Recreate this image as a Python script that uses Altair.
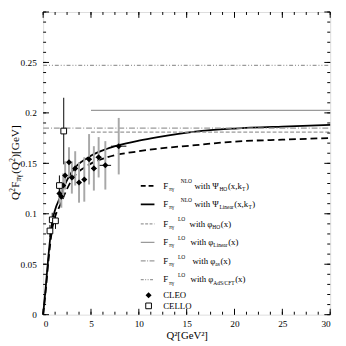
import altair as alt
import pandas as pd

# ---------------- data ----------------
# NLO curves
nlo_lin_q2 = [0, 0.27, 0.54, 0.95, 1.22, 1.8, 2.14, 3.0, 4.7, 6.7, 7.9, 10, 12, 15.9, 20, 25, 30]
nlo_lin_f = [0, 0.027, 0.057, 0.092, 0.103, 0.117, 0.126, 0.1416, 0.1558, 0.1645, 0.168, 0.1725, 0.176, 0.1815, 0.1845, 0.1865, 0.188]
nlo_ho_q2 = [0, 0.27, 0.54, 0.95, 1.22, 1.8, 2.14, 3.0, 4.7, 6.7, 10, 15.9, 20, 25, 30]
nlo_ho_f = [0, 0.024, 0.052, 0.085, 0.096, 0.109, 0.117, 0.1337, 0.148, 0.156, 0.162, 0.168, 0.1715, 0.1735, 0.175]

# LO constant lines
lo_names = ["HO", "Linear", "as", "AdS/CFT"]
lo_start = [5, 5, 0, 0]
lo_end = [30, 30, 30, 30]
lo_value = [0.181, 0.2025, 0.185, 0.247]

# CLEO data
cleo_q2 = [1.7, 1.9, 2.1, 2.3, 2.7, 3.0, 3.35, 3.75, 4.3, 4.8, 5.3, 5.8, 6.5, 7.9]
cleo_f = [0.120, 0.117, 0.128, 0.138, 0.151, 0.136, 0.145, 0.131, 0.134, 0.154, 0.145, 0.156, 0.148, 0.167]
cleo_err = [0.010, 0.011, 0.012, 0.014, 0.015, 0.016, 0.017, 0.020, 0.022, 0.025, 0.022, 0.020, 0.024, 0.028]
cleo_xerr = [0.1, 0.1, 0.1, 0.12, 0.15, 0.15, 0.2, 0.2, 0.25, 0.25, 0.3, 0.3, 0.6, 0.8]

# CELLO data
cello_q2 = [0.71, 0.95, 1.29, 1.70, 2.15]
cello_f = [0.083, 0.094, 0.093, 0.128, 0.182]
cello_err = [0.006, 0.007, 0.008, 0.010, 0.033]

# axes ticks
x_major = [0, 5, 10, 15, 20, 25, 30]
x_minor = [i * 1.25 for i in range(25)]
y_major = [0, 0.05, 0.1, 0.15, 0.2, 0.25, 0.3]
y_minor = [round(i * 0.01, 2) for i in range(31)]

W, H = 294, 310
FONT = "Liberation Serif"
GRAY = "#9a9a9a"

xs = alt.Scale(domain=[0, 30], nice=False, zero=False)
ys = alt.Scale(domain=[0, 0.3], nice=False, zero=False)

df_lin = pd.DataFrame({"q2": nlo_lin_q2, "f": nlo_lin_f})
df_ho = pd.DataFrame({"q2": nlo_ho_q2, "f": nlo_ho_f})
df_lo = pd.DataFrame({"name": lo_names, "x0": lo_start, "x1": lo_end, "v": lo_value})
df_cleo = pd.DataFrame({"q2": cleo_q2, "f": cleo_f})
df_cleo["lo"] = [a - b for a, b in zip(cleo_f, cleo_err)]
df_cleo["hi"] = [a + b for a, b in zip(cleo_f, cleo_err)]
df_cleo["xl"] = [a - b for a, b in zip(cleo_q2, cleo_xerr)]
df_cleo["xh"] = [a + b for a, b in zip(cleo_q2, cleo_xerr)]
df_cello = pd.DataFrame({"q2": cello_q2, "f": cello_f})
df_cello["lo"] = [a - b for a, b in zip(cello_f, cello_err)]
df_cello["hi"] = [a + b for a, b in zip(cello_f, cello_err)]

X = alt.X("q2:Q", scale=xs,
          axis=alt.Axis(values=x_major, ticks=False, domain=False, grid=False, labelFont=FONT,
                        labelFontSize=9.5, labelColor="black", labelPadding=4, title="Q²[GeV²]",
                        titleFont=FONT, titleFontSize=11, titleFontWeight="normal", titleColor="black",
                        titlePadding=2))
Y = alt.Y("f:Q", scale=ys,
          axis=alt.Axis(values=[0, 0.05, 0.1, 0.15, 0.2, 0.25], format="~g", ticks=False, domain=False,
                        grid=False, labelFont=FONT, labelFontSize=9.5, labelColor="black",
                        labelPadding=7, title=None))

base_lin = alt.Chart(df_lin).mark_line(color="black", strokeWidth=1.8, interpolate="monotone").encode(x=X, y=Y)
base_ho = alt.Chart(df_ho).mark_line(color="black", strokeWidth=1.8, strokeDash=[7, 4],
                                     interpolate="monotone").encode(x="q2:Q", y="f:Q")

dashes = {"HO": [4, 2], "Linear": [1, 0], "as": [6, 2, 1, 2], "AdS/CFT": [4, 2, 1, 2, 1, 2]}
lo_layers = []
for nm in lo_names:
    lo_layers.append(
        alt.Chart(df_lo[df_lo["name"] == nm]).mark_rule(color=GRAY, strokeWidth=1.3, strokeDash=dashes[nm])
        .encode(x="x0:Q", x2="x1:Q", y="v:Q"))

cleo_ebar = alt.Chart(df_cleo).mark_rule(color="#a8a8a8", strokeWidth=2).encode(x="q2:Q", y="lo:Q", y2="hi:Q")
cleo_xbar = alt.Chart(df_cleo).mark_rule(color="black", strokeWidth=1).encode(x="xl:Q", x2="xh:Q", y="f:Q")
cello_ebar = alt.Chart(df_cello).mark_rule(color="black", strokeWidth=1).encode(x="q2:Q", y="lo:Q", y2="hi:Q")
cleo_pts = alt.Chart(df_cleo).mark_point(shape="diamond", filled=True, color="black", size=38, opacity=1).encode(x="q2:Q", y="f:Q")
cello_pts = alt.Chart(df_cello).mark_point(shape="square", filled=True, fill="white", stroke="black",
                                           strokeWidth=1, size=34, opacity=1).encode(x="q2:Q", y="f:Q")

# inward ticks on all four sides
def xt(vals, length):
    d = pd.DataFrame({"v": vals})
    b = alt.Chart(d).mark_rule(color="black", strokeWidth=1).encode(x=alt.X("v:Q", scale=xs), y=alt.value(H), y2=alt.value(H - length))
    t = alt.Chart(d).mark_rule(color="black", strokeWidth=1).encode(x=alt.X("v:Q", scale=xs), y=alt.value(0), y2=alt.value(length))
    return [b, t]

def yt(vals, length):
    d = pd.DataFrame({"v": vals})
    l = alt.Chart(d).mark_rule(color="black", strokeWidth=1).encode(y=alt.Y("v:Q", scale=ys), x=alt.value(0), x2=alt.value(length))
    r = alt.Chart(d).mark_rule(color="black", strokeWidth=1).encode(y=alt.Y("v:Q", scale=ys), x=alt.value(W), x2=alt.value(W - length))
    return [l, r]

ticks = xt(x_minor, 3) + xt(x_major, 6) + yt(y_minor, 3) + yt(y_major, 6)

# ---------------- text layout helpers (Times-like metrics, em/1000) ----------------
MET = {"F": 556, "π": 540, "γ": 450, "N": 722, "L": 611, "O": 722, "w": 722, "i": 278, "t": 278,
       "h": 500, " ": 250, "Ψ": 790, "H": 722, "(": 333, "x": 500, ",": 250, "k": 500, "T": 611,
       ")": 333, "n": 500, "e": 444, "a": 444, "r": 333, "φ": 540, "s": 389, "A": 722, "d": 500,
       "S": 556, "/": 278, "C": 667, "E": 611, "Q": 722, "2": 500, "[": 333, "]": 333, "G": 722,
       "V": 722}

def tw(text, size):
    return sum(MET.get(c, 500) for c in text) * size / 1000.0

MAIN, SMALL = 9.0, 5.6
OX, OY = 44, 8  # plot origin on page
rows_y = [186, 205, 225, 244, 263, 282, 298, 309]
main_pieces, small_pieces = [], []

def layout(row, seq):
    x = None
    for text, kind, fx in seq:
        if fx is not None:
            x = fx
        size = MAIN if kind == "m" else SMALL
        dy = 0 if kind == "m" else (3.2 if kind == "sub" else -4.5)
        lst = main_pieces if kind == "m" else small_pieces
        lst.append({"t": text, "px": x - OX, "py": rows_y[row] - OY + dy})
        x += tw(text, size) + (0.6 if kind != "m" else 0.2)

layout(0, [("F", "m", 167), ("πγ", "sub", 173), ("NLO", "sup", 185), ("with Ψ", "m", 199),
           ("HO", "sub", None), ("(x,k", "m", None), ("T", "sub", None), (")", "m", None)])
layout(1, [("F", "m", 167), ("πγ", "sub", 173), ("NLO", "sup", 185), ("with Ψ", "m", 199),
           ("Linear", "sub", None), ("(x,k", "m", None), ("T", "sub", None), (")", "m", None)])
layout(2, [("F", "m", 167), ("πγ", "sub", 173), ("LO", "sup", 182), ("with φ", "m", 194),
           ("HO", "sub", None), ("(x)", "m", None)])
layout(3, [("F", "m", 167), ("πγ", "sub", 173), ("LO", "sup", 182), ("with φ", "m", 195),
           ("Linear", "sub", None), (" (x)", "m", None)])
layout(4, [("F", "m", 167), ("πγ", "sub", 173), ("LO", "sup", 182), ("with φ", "m", 197),
           ("as", "sub", None), ("(x)", "m", None)])
layout(5, [("F", "m", 167), ("πγ", "sub", 173), ("LO", "sup", 182), ("with φ", "m", 195),
           ("AdS/CFT", "sub", None), ("(x)", "m", None)])
layout(6, [("CLEO", "m", 167)])
layout(7, [("CELLO", "m", 167)])

leg_main = alt.Chart(pd.DataFrame(main_pieces)).mark_text(
    align="left", baseline="middle", font=FONT, fontSize=MAIN, color="black").encode(
    x=alt.X("px:Q", scale=None), y=alt.Y("py:Q", scale=None), text="t:N")
leg_small = alt.Chart(pd.DataFrame(small_pieces)).mark_text(
    align="left", baseline="middle", font=FONT, fontSize=SMALL, color="black").encode(
    x=alt.X("px:Q", scale=None), y=alt.Y("py:Q", scale=None), text="t:N")

sym = []
sx0, sx1 = 144 - OX, 158 - OX
sym_styles = [("black", 1.8, [5, 3]), ("black", 1.8, [1, 0]), (GRAY, 1.3, [3, 1.5]),
              (GRAY, 1.3, [1, 0]), (GRAY, 1.3, [5, 1.5, 1, 1.5]), (GRAY, 1.3, [3, 1.5, 1, 1.5, 1, 1.5])]
for r, (col, sw, dsh) in enumerate(sym_styles):
    sym.append(alt.Chart(pd.DataFrame({"a": [0]})).mark_rule(color=col, strokeWidth=sw, strokeDash=dsh).encode(
        x=alt.value(sx0), x2=alt.value(sx1), y=alt.value(rows_y[r] - OY)))
sym.append(alt.Chart(pd.DataFrame({"a": [0]})).mark_point(shape="diamond", filled=True, color="black", size=38, opacity=1).encode(
    x=alt.value(152 - OX), y=alt.value(rows_y[6] - OY)))
sym.append(alt.Chart(pd.DataFrame({"a": [0]})).mark_point(shape="square", filled=True, fill="white", stroke="black", strokeWidth=1, size=34, opacity=1).encode(
    x=alt.value(152 - OX), y=alt.value(rows_y[7] - OY)))

# ---------------- y-axis title (manual, rotated) ----------------
YT_MAIN, YT_SMALL = 11.5, 7.5
ycx = 16.5 - OX
seq = [("Q", "m"), ("2", "sup"), ("F", "m"), ("πγ", "sub"), ("(Q", "m"), ("2", "sup"), (")[GeV]", "m")]
total = sum(tw(t, YT_MAIN if k == "m" else YT_SMALL) for t, k in seq)
pos = (8 + 318) / 2 - OY + total / 2
yt_main, yt_small = [], []
for text, kind in seq:
    if kind == "m":
        yt_main.append({"t": text, "px": ycx, "py": pos})
        pos -= tw(text, YT_MAIN)
    else:
        yt_small.append({"t": text, "px": ycx + (-3.8 if kind == "sup" else 3.0), "py": pos})
        pos -= tw(text, YT_SMALL) + 0.5

ytitle_main = alt.Chart(pd.DataFrame(yt_main)).mark_text(
    align="left", baseline="middle", angle=270, font=FONT, fontSize=YT_MAIN, color="black").encode(
    x=alt.X("px:Q", scale=None), y=alt.Y("py:Q", scale=None), text="t:N")
ytitle_small = alt.Chart(pd.DataFrame(yt_small)).mark_text(
    align="left", baseline="middle", angle=270, font=FONT, fontSize=YT_SMALL, color="black").encode(
    x=alt.X("px:Q", scale=None), y=alt.Y("py:Q", scale=None), text="t:N")

chart = alt.layer(
    base_lin, base_ho, *lo_layers, cleo_ebar, cello_ebar, cleo_xbar, cleo_pts, cello_pts,
    *ticks, *sym, leg_main, leg_small, ytitle_main, ytitle_small
).properties(
    width=W, height=H,
    autosize=alt.AutoSizeParams(type="none"),
    padding={"left": 36, "top": 0, "right": 8, "bottom": 28},
).configure_view(stroke="black", strokeWidth=1).configure(background="white")

chart.save("out.html", embed_options={"renderer": "svg", "actions": False})
